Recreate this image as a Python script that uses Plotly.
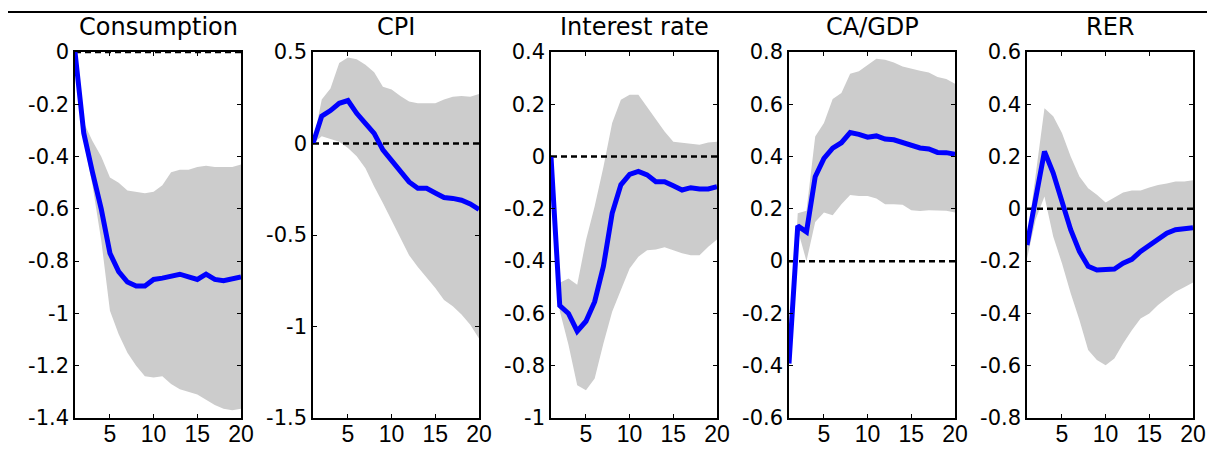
import plotly.graph_objects as go

periods = list(range(1, 21))
titles = ["Consumption", "CPI", "Interest rate", "CA/GDP", "RER"]

cons_med = [0, -0.31, -0.46, -0.6, -0.77, -0.84, -0.88, -0.895, -0.895, -0.87,
            -0.865, -0.857, -0.85, -0.86, -0.87, -0.85, -0.87, -0.875, -0.865, -0.86]
cons_up = [0, -0.27, -0.34, -0.40, -0.48, -0.50, -0.53, -0.535, -0.54, -0.535,
           -0.51, -0.46, -0.45, -0.45, -0.44, -0.435, -0.44, -0.44, -0.44, -0.43]
cons_lo = [0, -0.34, -0.51, -0.72, -0.99, -1.08, -1.15, -1.20, -1.24, -1.245,
           -1.24, -1.27, -1.29, -1.30, -1.31, -1.33, -1.35, -1.365, -1.37, -1.365]

cpi_med = [0, 0.15, 0.18, 0.22, 0.235, 0.165, 0.11, 0.055, -0.035, -0.09,
           -0.145, -0.21, -0.245, -0.245, -0.27, -0.295, -0.30, -0.31, -0.33, -0.36]
cpi_up = [0, 0.24, 0.30, 0.44, 0.47, 0.46, 0.43, 0.39, 0.31, 0.295,
          0.26, 0.23, 0.22, 0.22, 0.22, 0.24, 0.255, 0.26, 0.255, 0.27]
cpi_lo = [0, 0.04, 0.025, 0.01, -0.025, -0.07, -0.135, -0.235, -0.325, -0.42,
          -0.52, -0.61, -0.675, -0.73, -0.79, -0.855, -0.89, -0.935, -0.99, -1.065]

ir_med = [0, -0.57, -0.60, -0.668, -0.63, -0.555, -0.42, -0.217, -0.108, -0.068,
          -0.057, -0.07, -0.096, -0.096, -0.112, -0.128, -0.119, -0.124, -0.124, -0.115]
ir_up = [0, -0.483, -0.466, -0.49, -0.32, -0.19, -0.04, 0.128, 0.217, 0.236,
         0.236, 0.19, 0.14, 0.096, 0.057, 0.054, 0.049, 0.045, 0.054, 0.057]
ir_lo = [0, -0.59, -0.72, -0.875, -0.894, -0.849, -0.715, -0.594, -0.51, -0.428,
         -0.383, -0.358, -0.355, -0.347, -0.358, -0.37, -0.377, -0.377, -0.345, -0.317]

ca_med = [-0.392, 0.135, 0.112, 0.323, 0.393, 0.432, 0.453, 0.492, 0.485, 0.474,
          0.479, 0.467, 0.464, 0.455, 0.442, 0.433, 0.429, 0.416, 0.415, 0.409]
ca_up = [-0.39, 0.183, 0.193, 0.477, 0.528, 0.62, 0.643, 0.717, 0.726, 0.751,
         0.774, 0.77, 0.76, 0.745, 0.735, 0.728, 0.722, 0.704, 0.697, 0.679]
ca_lo = [-0.39, 0.12, 0.0, 0.15, 0.186, 0.176, 0.218, 0.253, 0.249, 0.249,
         0.24, 0.218, 0.218, 0.216, 0.195, 0.192, 0.195, 0.195, 0.193, 0.186]

rer_med = [-0.138, 0.04, 0.22, 0.137, 0.022, -0.08, -0.163, -0.22, -0.234, -0.234,
           -0.23, -0.208, -0.193, -0.163, -0.138, -0.115, -0.093, -0.08, -0.078, -0.072]
rer_up = [-0.12, 0.124, 0.385, 0.354, 0.29, 0.20, 0.124, 0.079, 0.054, 0.024,
          0.043, 0.063, 0.07, 0.07, 0.082, 0.091, 0.097, 0.105, 0.105, 0.109]
rer_lo = [-0.19, -0.04, 0.047, -0.106, -0.208, -0.323, -0.425, -0.54, -0.578, -0.598,
          -0.572, -0.515, -0.464, -0.419, -0.40, -0.368, -0.342, -0.317, -0.30, -0.282]

x_tickvals = [5, 10, 15, 20]
x_ticktext = ["5", "10", "15", "20"]

y_ranges = [[-1.4, 0], [-1.5, 0.5], [-1.0, 0.4], [-0.6, 0.8], [-0.8, 0.6]]
y_tickvals = [
    [0, -0.2, -0.4, -0.6, -0.8, -1.0, -1.2, -1.4],
    [0.5, 0, -0.5, -1.0, -1.5],
    [0.4, 0.2, 0, -0.2, -0.4, -0.6, -0.8, -1.0],
    [0.8, 0.6, 0.4, 0.2, 0, -0.2, -0.4, -0.6],
    [0.6, 0.4, 0.2, 0, -0.2, -0.4, -0.6, -0.8],
]
y_ticktext = [
    ["0", "-0.2", "-0.4", "-0.6", "-0.8", "-1", "-1.2", "-1.4"],
    ["0.5", "0", "-0.5", "-1", "-1.5"],
    ["0.4", "0.2", "0", "-0.2", "-0.4", "-0.6", "-0.8", "-1"],
    ["0.8", "0.6", "0.4", "0.2", "0", "-0.2", "-0.4", "-0.6"],
    ["0.6", "0.4", "0.2", "0", "-0.2", "-0.4", "-0.6", "-0.8"],
]

medians = [cons_med, cpi_med, ir_med, ca_med, rer_med]
uppers = [cons_up, cpi_up, ir_up, ca_up, rer_up]
lowers = [cons_lo, cpi_lo, ir_lo, ca_lo, rer_lo]

# page has an 8px body margin; figure is sized/positioned to compensate
OFF = 8
W, H = 1215 - OFF, 450 - OFF
ML, MT = 75 - OFF, 52 - OFF
PW = 1193 - 75
PH = 418 - 52
MR = W - ML - PW
MB = H - MT - PH
lefts = [75, 313, 551, 789, 1027]
panel_w = 166

FONT = "DejaVu Sans, Liberation Sans, Arial, sans-serif"
XFONT = "Liberation Sans, Arial, sans-serif"
fig = go.Figure()
layout = dict(
    width=W, height=H,
    margin=dict(l=ML, r=MR, t=MT, b=MB, pad=0, autoexpand=False),
    paper_bgcolor="white", plot_bgcolor="white",
    showlegend=False,
    font=dict(family=FONT, size=21, color="black"),
)
annotations = []
for k in range(5):
    xa = "x" if k == 0 else f"x{k+1}"
    ya = "y" if k == 0 else f"y{k+1}"
    d0 = (lefts[k] - 75) / PW
    d1 = (lefts[k] + panel_w - 75) / PW
    fig.add_trace(go.Scatter(x=periods, y=lowers[k], mode="lines", line=dict(width=0),
                             xaxis=xa, yaxis=ya, hoverinfo="skip"))
    fig.add_trace(go.Scatter(x=periods, y=uppers[k], mode="lines", line=dict(width=0),
                             fill="tonexty", fillcolor="#cccccc", xaxis=xa, yaxis=ya))
    fig.add_trace(go.Scatter(x=[periods[0], periods[-1]], y=[0, 0], mode="lines",
                             line=dict(color="black", width=2.5, dash="6px,4px"),
                             xaxis=xa, yaxis=ya))
    fig.add_trace(go.Scatter(x=periods, y=medians[k], mode="lines",
                             line=dict(color="#0000ff", width=5), xaxis=xa, yaxis=ya))
    axkey = "xaxis" if k == 0 else f"xaxis{k+1}"
    aykey = "yaxis" if k == 0 else f"yaxis{k+1}"
    layout[axkey] = dict(domain=[d0, d1], range=[1, 20], anchor=ya, automargin=False,
                         tickvals=x_tickvals, ticktext=x_ticktext,
                         ticks="inside", ticklen=4, tickcolor="black",
                         ticklabelstandoff=-5,
                         showline=True, linecolor="black", linewidth=1.5, mirror="ticks",
                         showgrid=False, zeroline=False,
                         tickfont=dict(size=23, family=XFONT))
    layout[aykey] = dict(domain=[0, 1], range=y_ranges[k], anchor=xa, automargin=False,
                         tickvals=y_tickvals[k], ticktext=y_ticktext[k],
                         ticks="inside", ticklen=4, tickcolor="black",
                         showline=True, linecolor="black", linewidth=1.5, mirror="ticks",
                         showgrid=False, zeroline=False,
                         tickfont=dict(size=21, family=FONT))
    annotations.append(dict(text=titles[k], x=(d0 + d1) / 2, y=1 + (52 - 27) / PH,
                            xref="paper", yref="paper", showarrow=False,
                            xanchor="center", yanchor="middle",
                            font=dict(size=24, family=FONT, color="black")))

layout["annotations"] = annotations
layout["shapes"] = [dict(type="line", xref="paper", yref="paper",
                         x0=-(75) / PW, x1=(1215 - 75) / PW,
                         y0=1 + (52 - 12) / PH, y1=1 + (52 - 12) / PH,
                         line=dict(color="black", width=2))]
fig.update_layout(**layout)
fig.write_html("out.html")
